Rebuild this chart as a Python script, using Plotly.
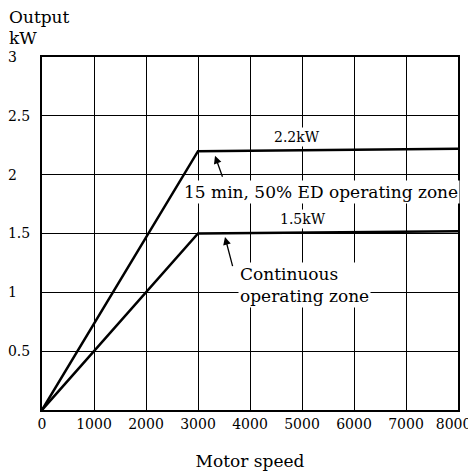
import plotly.graph_objects as go

# motor speed (rpm) vs output (kW)
speed = [0, 3000, 8000]
out_15min = [0, 2.2, 2.22]
out_cont = [0, 1.5, 1.52]

x_ticks = [0, 1000, 2000, 3000, 4000, 5000, 6000, 7000, 8000]
x_labels = ["0", "1000", "2000", "3000", "4000", "5000", "6000", "7000", "8000\u00a0\u00a0"]
y_ticks = [0.5, 1, 1.5, 2, 2.5, 3]
y_labels = ["0.5", "1\u00a0\u00a0\u00a0", "1.5", "2\u00a0\u00a0\u00a0", "2.5", "3\u00a0\u00a0\u00a0"]

FONT = "DejaVu Serif"

fig = go.Figure()
fig.add_trace(go.Scatter(x=speed, y=out_15min, mode="lines",
                         line=dict(color="black", width=2.5), showlegend=False))
fig.add_trace(go.Scatter(x=speed, y=out_cont, mode="lines",
                         line=dict(color="black", width=2.5), showlegend=False))

def label(x, y, text, size=17, **kw):
    fig.add_annotation(x=x, y=y, text=text, showarrow=False,
                       font=dict(family=FONT, size=size, color="black"),
                       bgcolor="white", borderpad=1, **kw)

label(4900, 2.32, "2.2kW", size=14)
label(5370, 1.85, "15 min, 50% ED operating zone")
label(5020, 1.62, "1.5kW", size=14)
label(3769, 1.06, "Continuous<br>operating zone", xanchor="left", align="left")

# arrows from the labels to the curves
for hx, hy, tx, ty in [(3327, 2.16, 3481, 1.97), (3519, 1.47, 3673, 1.21)]:
    fig.add_annotation(x=hx, y=hy, ax=tx, ay=ty, axref="x", ayref="y",
                       text="", showarrow=True, arrowhead=2, arrowsize=1.2,
                       arrowwidth=1.3, arrowcolor="black")

# y axis title, two lines above the axis
for txt, shift in [("Output", 40), ("kW", 19)]:
    fig.add_annotation(x=0, y=1, xref="paper", yref="paper", xshift=-35, yshift=shift,
                       text=txt, showarrow=False, xanchor="left", yanchor="middle",
                       font=dict(family=FONT, size=17, color="black"))

fig.update_xaxes(range=[0, 8000], tickvals=x_ticks, ticktext=x_labels, ticks="",
                 automargin=False, ticklabeloverflow="allow",
                 showgrid=True, gridcolor="black", gridwidth=1,
                 showline=True, linecolor="black", linewidth=2, mirror=True,
                 zeroline=False, tickfont=dict(family=FONT, size=14, color="black"),
                 title=dict(text="Motor speed", standoff=24,
                            font=dict(family=FONT, size=17, color="black")))
fig.update_yaxes(range=[0, 3], tickvals=y_ticks, ticktext=y_labels, ticks="",
                 automargin=False, showgrid=True, gridcolor="black", gridwidth=1,
                 showline=True, linecolor="black", linewidth=2, mirror=True,
                 zeroline=False, ticklabelstandoff=7,
                 tickfont=dict(family=FONT, size=14, color="black"))

# page body adds an 8px offset, so the figure is 8px smaller than the window
fig.update_layout(width=468, height=467, margin=dict(l=34, r=18, t=49, b=65),
                  plot_bgcolor="white", paper_bgcolor="white")

fig.write_html("out.html")
